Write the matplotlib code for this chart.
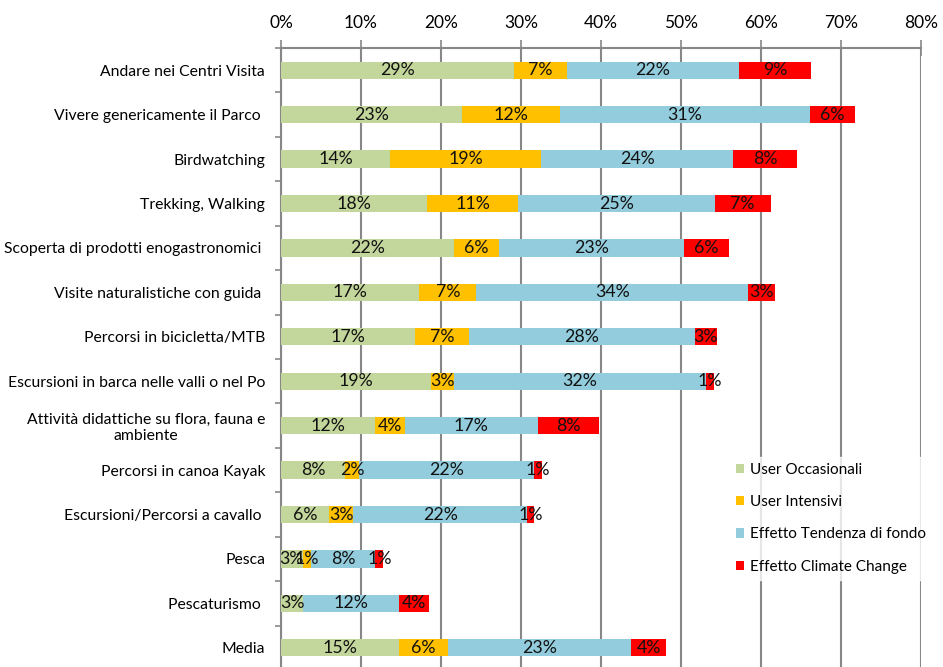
import numpy as np
import matplotlib
matplotlib.use("Agg")
import matplotlib.pyplot as plt
from matplotlib.patches import Patch
from matplotlib.ticker import FixedLocator

plt.rcParams['font.family'] = ['Lato', 'DejaVu Sans']

# categories, top to bottom
categorie = [
    "Andare nei Centri Visita",
    "Vivere genericamente il Parco ",
    "Birdwatching",
    "Trekking, Walking",
    "Scoperta di prodotti enogastronomici ",
    "Visite naturalistiche con guida ",
    "Percorsi in bicicletta/MTB",
    "Escursioni in barca nelle valli o nel Po",
    "Attività didattiche su flora, fauna e\nambiente",
    "Percorsi in canoa Kayak",
    "Escursioni/Percorsi a cavallo ",
    "Pesca",
    "Pescaturismo ",
    "Media",
]

# shares in %
user_occasionali = [29.1, 22.6, 13.6, 18.3, 21.6, 17.3, 16.8, 18.7, 11.8, 8.0, 6.0, 2.7, 2.8, 14.7]
user_intensivi = [6.6, 12.3, 18.9, 11.3, 5.7, 7.1, 6.7, 2.9, 3.7, 1.8, 3.0, 1.1, 0.0, 6.2]
tendenza_fondo = [21.6, 31.2, 24.0, 24.6, 23.1, 34.0, 28.2, 31.5, 16.6, 21.8, 21.8, 8.0, 11.9, 22.9]
climate_change = [9.0, 5.6, 8.0, 7.0, 5.6, 3.3, 2.8, 1.0, 7.7, 1.0, 0.8, 1.0, 3.8, 4.3]

serie = ["User Occasionali", "User Intensivi", "Effetto Tendenza di fondo", "Effetto Climate Change"]
colori = ["#C3D69B", "#FFC000", "#93CDDD", "#FF0000"]

fig = plt.figure(figsize=(9.43, 6.67), dpi=100)
# plot area: x 281..921 px, y 48..670 px (from top)
ax = fig.add_axes([281 / 943, -3 / 667, 640 / 943, 622 / 667])

y = np.arange(len(categorie))
left = np.zeros(len(categorie))
for valori, nome, col in zip([user_occasionali, user_intensivi, tendenza_fondo, climate_change], serie, colori):
    v = np.array(valori)
    ax.barh(y, v, left=left, height=0.39, color=col, label=nome, zorder=3)
    for yi, (l, w) in enumerate(zip(left, v)):
        if w > 0:
            ax.text(l + w / 2, yi, "{}%".format(int(round(w))), ha="center", va="center",
                    fontsize=12.8, color="#111111", zorder=4)
    left = left + v

ax.set_xlim(0, 80)
ax.set_ylim(13.5, -0.5)
ax.xaxis.tick_top()
ax.set_xticks(np.arange(0, 81, 10))
ax.set_xticklabels(["{}%".format(t) for t in range(0, 81, 10)], fontsize=12.5)
ax.tick_params(axis="x", direction="inout", length=11, width=1.2, color="#878787", pad=7)
ax.grid(axis="x", color="#878787", linewidth=1.5, zorder=0)

ax.set_yticks(y)
ax.set_yticklabels(categorie, fontsize=11.3)
for t in ax.get_yticklabels():
    t.set_multialignment("center")
ax.tick_params(axis="y", which="major", length=0, pad=11.5)
ax.yaxis.set_minor_locator(FixedLocator(np.arange(-0.5, len(categorie), 1.0)))
ax.tick_params(axis="y", which="minor", length=4.5, width=1.2, color="#878787", direction="out")

for s in ["right", "bottom"]:
    ax.spines[s].set_visible(False)
ax.spines["top"].set_color("#878787")
ax.spines["top"].set_linewidth(1.5)
ax.spines["left"].set_color("#878787")
ax.spines["left"].set_linewidth(1.5)

handles = [Patch(facecolor=c, label=n) for c, n in zip(colori, serie)]
leg = fig.legend(handles=handles, loc="upper left", bbox_to_anchor=(722 / 943, 1 - 449 / 667),
                 frameon=True, fontsize=11, handlelength=0.55, handleheight=0.55, handletextpad=0.35,
                 labelspacing=1.2, borderpad=0.4, fancybox=False)
leg.get_frame().set_facecolor("white")
leg.get_frame().set_edgecolor("white")
leg.set_zorder(5)

fig.savefig("out.png", dpi=100)
